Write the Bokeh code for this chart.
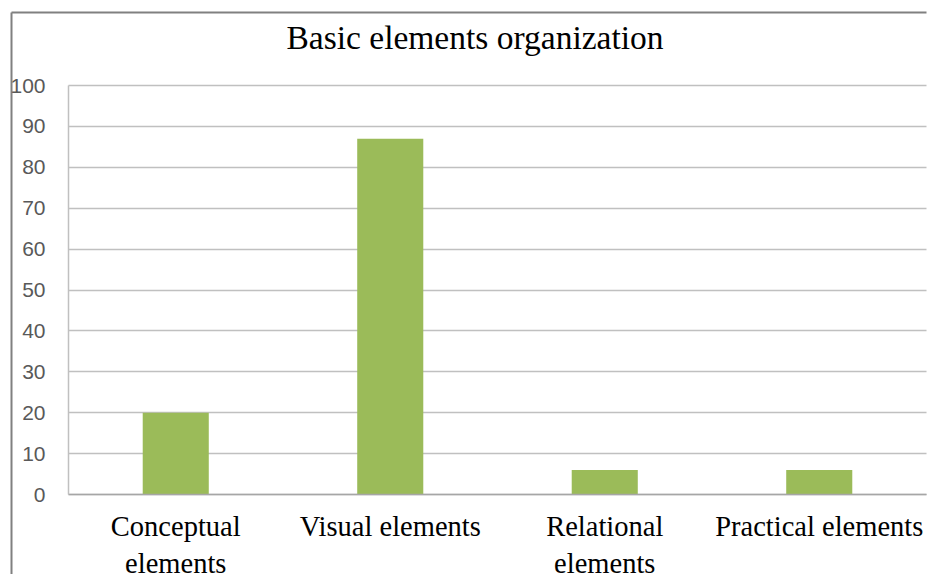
from bokeh.plotting import figure
from bokeh.models import (ColumnDataSource, Range1d, FixedTicker, LinearAxis, Grid, Label)
from bokeh.embed import file_html
from bokeh.resources import INLINE

# ---- data ----
categories = ["Conceptual elements", "Visual elements", "Relational elements", "Practical elements"]
values = [20, 87, 6, 6]
tick_labels = ["Conceptual\nelements", "Visual elements", "Relational\nelements", "Practical elements"]
y_ticks = [0, 10, 20, 30, 40, 50, 60, 70, 80, 90, 100]
title_text = "Basic elements organization"

BAR = "#9BBB59"
SERIF = "Liberation Serif"

# ---- layout (pixels) ----
W, H = 928, 574
PL, PR, PT, PB = 68, 926, 85, 494          # plot area in canvas pixels
n = len(categories)
ux = (PR - PL) / n                          # px per category
uy = (PB - PT) / 100.0                      # px per y unit
def xv(px): return (px - PL) / ux
def yv(py): return (PB - py) / uy

p = figure(width=W, height=H, output_backend="svg", toolbar_location=None,
           x_range=Range1d(xv(0), xv(W)), y_range=Range1d(yv(H), yv(0)),
           x_axis_location=None, y_axis_location=None,
           min_border_left=0, min_border_right=0, min_border_top=0, min_border_bottom=0)
p.outline_line_color = None
p.background_fill_color = "white"
p.border_fill_color = "white"
for g in p.grid:
    g.visible = False

xpos = [i + 0.5 for i in range(n)]
src = ColumnDataSource(dict(x=xpos, cat=categories, val=values))

# gridlines
grid = Grid(dimension=1, ticker=FixedTicker(ticks=y_ticks), bounds=(0, 100),
            grid_line_color="#c0c0c0", grid_line_width=1.5)
has_cross = "cross_bounds" in Grid.properties()
if has_cross:
    grid.cross_bounds = (0, n)
p.add_layout(grid)
if not has_cross:
    p.quad(left=xv(0), right=0, bottom=-1, top=101, fill_color="white", line_color=None)

p.vbar(x="x", top="val", width=0.308, source=src, fill_color=BAR, line_color=None)

# y axis
yaxis = LinearAxis(fixed_location=0, bounds=(0, 100), ticker=FixedTicker(ticks=y_ticks))
yaxis.major_tick_line_color = None
yaxis.minor_tick_line_color = None
yaxis.major_tick_out = 0
yaxis.major_tick_in = 0
yaxis.major_label_standoff = 23
yaxis.major_label_text_font = "Liberation Sans"
yaxis.major_label_text_font_size = "21px"
yaxis.major_label_text_color = "#595959"
yaxis.axis_line_color = "#c0c0c0"
yaxis.axis_line_width = 1.5
p.add_layout(yaxis, "left")

# x axis
xaxis = LinearAxis(fixed_location=0, bounds=(0, n), ticker=FixedTicker(ticks=xpos))
xaxis.major_label_overrides = {x: t for x, t in zip(xpos, tick_labels)}
xaxis.major_tick_line_color = None
xaxis.minor_tick_line_color = None
xaxis.major_tick_out = 0
xaxis.major_tick_in = 0
xaxis.major_label_standoff = 16
xaxis.major_label_text_font = SERIF
xaxis.major_label_text_font_size = "28.5px"
xaxis.major_label_text_color = "#000000"
xaxis.axis_line_color = "#a6a6a6"
xaxis.axis_line_width = 1.5
p.add_layout(xaxis, "below")

# title
p.add_layout(Label(x=xv(474.5), y=yv(37), text=title_text, text_align="center",
                   text_baseline="alphabetic", text_font=SERIF, text_font_size="33.5px",
                   text_color="#000000"))

# chart-area border (top and left edges visible)
bx, by = xv(11), yv(12)
p.segment(x0=[bx, bx], y0=[yv(H), by], x1=[bx, xv(926)], y1=[by, by],
          line_color="#808080", line_width=2)

open("out.html", "w").write(file_html(p, INLINE))
